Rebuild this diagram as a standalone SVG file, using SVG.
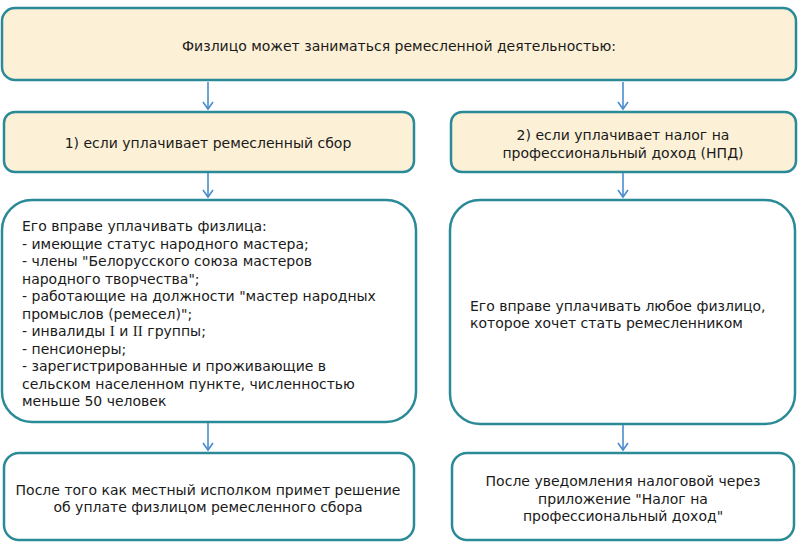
<svg xmlns="http://www.w3.org/2000/svg" width="800" height="547" viewBox="0 0 800 547">
<defs>
<marker id="ah" markerWidth="12" markerHeight="12" refX="9" refY="6" orient="auto" markerUnits="userSpaceOnUse">
<path d="M2,1 L9,6 L2,11" fill="none" stroke="#4a8ccf" stroke-width="1.6"/>
</marker>
</defs>
<style>
.box{stroke:#2a8a97;stroke-width:2.5}
.tan{fill:#fcf0d6}
.wh{fill:#ffffff}
text{font-family:"DejaVu Sans",Verdana,sans-serif;font-size:14px;fill:#1a1a1a}
.c{text-anchor:middle}
.ser{font-family:"Liberation Serif","Times New Roman",serif;font-size:15px}
.conn line{stroke:#4a8ccf;stroke-width:1.6}
</style>
<rect width="800" height="547" fill="#ffffff"/>
<g id="top"><rect class="box tan" x="2" y="8" width="794" height="72" rx="13"/>
<text class="c" x="399" y="51">Физлицо может заниматься ремесленной деятельностью:</text></g>
<g id="opt1"><rect class="box tan" x="4" y="112" width="410" height="60" rx="11"/>
<text class="c" x="208" y="148">1) если уплачивает ремесленный сбор</text></g>
<g id="opt2"><rect class="box tan" x="451" y="112" width="345" height="60" rx="11"/>
<text class="c" x="623" y="139.5">2) если уплачивает налог на</text>
<text class="c" x="623" y="157.5">профессиональный доход (НПД)</text></g>
<g id="who1"><rect class="box wh" x="2" y="200" width="414" height="222" rx="30"/>
<text x="22" y="231">Его вправе уплачивать физлица:</text>
<text x="22" y="248.5">- имеющие статус народного мастера;</text>
<text x="22" y="266">- члены "Белорусского союза мастеров</text>
<text x="22" y="283.5">народного творчества";</text>
<text x="22" y="301">- работающие на должности "мастер народных</text>
<text x="22" y="318.5">промыслов (ремесел)";</text>
<text x="22" y="336">- инвалиды <tspan class="ser">I</tspan> и <tspan class="ser">II</tspan> группы;</text>
<text x="22" y="353.5">- пенсионеры;</text>
<text x="22" y="371">- зарегистрированные и проживающие в</text>
<text x="22" y="388.5">сельском населенном пункте, численностью</text>
<text x="22" y="406">меньше 50 человек</text></g>
<g id="who2"><rect class="box wh" x="450" y="200" width="345" height="224" rx="30"/>
<text x="470" y="311">Его вправе уплачивать любое физлицо,</text>
<text x="470" y="327.5">которое хочет стать ремесленником</text></g>
<g id="when1"><rect class="box wh" x="4" y="453" width="410" height="87" rx="15"/>
<text class="c" x="208" y="495">После того как местный исполком примет решение</text>
<text class="c" x="208" y="512">об уплате физлицом ремесленного сбора</text></g>
<g id="when2"><rect class="box wh" x="452" y="453" width="342" height="87" rx="15"/>
<text class="c" x="623" y="486">После уведомления налоговой через</text>
<text class="c" x="623" y="503.5">приложение "Налог на</text>
<text class="c" x="623" y="521">профессиональный доход"</text></g>
<g class="conn" id="connectors">
<line x1="208" y1="82" x2="208" y2="109" marker-end="url(#ah)"/>
<line x1="623" y1="82" x2="623" y2="109" marker-end="url(#ah)"/>
<line x1="208" y1="173" x2="208" y2="197" marker-end="url(#ah)"/>
<line x1="623" y1="173" x2="623" y2="197" marker-end="url(#ah)"/>
<line x1="208" y1="423" x2="208" y2="450" marker-end="url(#ah)"/>
<line x1="623" y1="425" x2="623" y2="450" marker-end="url(#ah)"/>
</g>
</svg>
